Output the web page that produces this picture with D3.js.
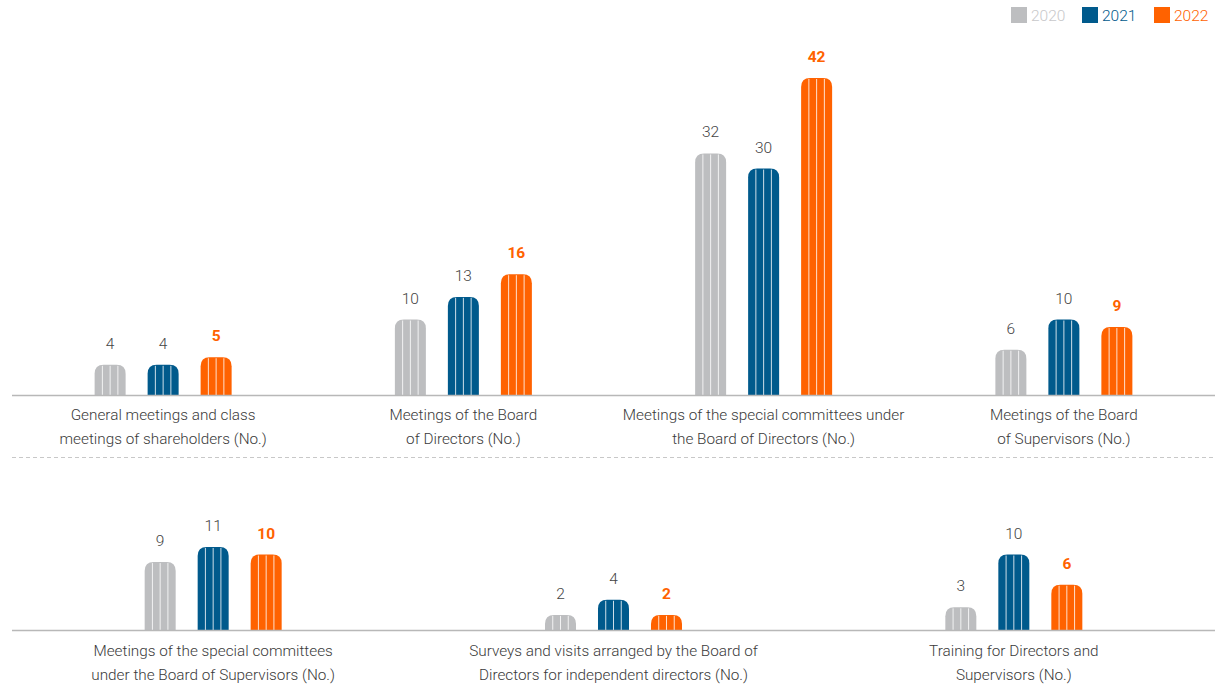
<!DOCTYPE html>
<html>
<head>
<meta charset="utf-8">
<script src="https://cdn.jsdelivr.net/npm/d3@7"></script>
<style>
  html, body { margin: 0; padding: 0; background: #fff; }
  svg { display: block; }
  text { font-family: Roboto, "Liberation Sans", Arial, sans-serif; }
</style>
</head>
<body>
<svg id="chart" width="1221" height="692"></svg>
<script>
// Corporate governance activity counts, 2020–2022
const years = ["2020", "2021", "2022"];

const topCategories = [
  ["General meetings and class", "meetings of shareholders (No.)"],
  ["Meetings of the Board", "of Directors (No.)"],
  ["Meetings of the special committees under", "the Board of Directors (No.)"],
  ["Meetings of the Board", "of Supervisors (No.)"]
];
const top2020 = [4, 10, 32, 6];
const top2021 = [4, 13, 30, 10];
const top2022 = [5, 16, 42, 9];

const bottomCategories = [
  ["Meetings of the special committees", "under the Board of Supervisors (No.)"],
  ["Surveys and visits arranged by the Board of", "Directors for independent directors (No.)"],
  ["Training for Directors and", "Supervisors (No.)"]
];
const bottom2020 = [9, 2, 3];
const bottom2021 = [11, 4, 10];
const bottom2022 = [10, 2, 6];

const colors = { "2020": "#bdbec0", "2021": "#005a8c", "2022": "#ff6200" };
const labelColors = { "2020": "#444", "2021": "#444", "2022": "#ff6200" };

const svg = d3.select("#chart");
const plotLeft = 13, plotRight = 1214;

// shared value scale: pixels per unit identical in both panels
const barMaxH = 317;
const y = d3.scaleLinear().domain([0, 42]).range([0, barMaxH]);

// series offset inside a group
const x1 = d3.scaleBand().domain(years)
  .range([-68.5, 68.5]).paddingInner(0.415).paddingOuter(0);

function barPath(x, top, w, h) {
  const r = Math.min(9, h, w / 2);
  const b = top + h;
  return `M${x},${b} L${x},${top + r} Q${x},${top} ${x + r},${top} ` +
         `L${x + w - r},${top} Q${x + w},${top} ${x + w},${top + r} ` +
         `L${x + w},${b} Z`;
}

function drawPanel(cats, series, baseY, labelY) {
  const x0 = d3.scaleBand().domain(d3.range(cats.length))
    .range([plotLeft, plotRight]).padding(0);
  const g = svg.append("g");

  cats.forEach((c, i) => {
    const cx = x0(i) + x0.bandwidth() / 2;
    years.forEach((yr, k) => {
      const v = series[k][i];
      const bx = cx + x1(yr);
      const bw = x1.bandwidth();
      const h = y(v);
      const top = baseY - h;
      g.append("path")
        .attr("d", barPath(bx, top, bw, h))
        .attr("fill", colors[yr]);
      // vertical white pinstripes
      [0.25, 0.5, 0.75].forEach(f => {
        const sx = bx + bw * f;
        g.append("line")
          .attr("x1", sx).attr("x2", sx)
          .attr("y1", top + 1).attr("y2", baseY)
          .attr("stroke", "#fff").attr("stroke-opacity", 0.8)
          .attr("stroke-width", 1);
      });
      g.append("text")
        .attr("x", bx + bw / 2).attr("y", top - 16)
        .attr("text-anchor", "middle")
        .attr("font-size", 15.5)
        .attr("font-weight", yr === "2022" ? 700 : 300)
        .attr("fill", labelColors[yr])
        .text(v);
    });

    const t = g.append("text")
      .attr("text-anchor", "middle")
      .attr("font-size", 15.3)
      .attr("font-weight", 300)
      .attr("fill", "#3a3a3a");
    c.forEach((line, j) => {
      t.append("tspan").attr("x", cx).attr("y", labelY + j * 24).text(line);
    });
  });

  g.append("line")
    .attr("x1", 12).attr("x2", 1215)
    .attr("y1", baseY + 0.5).attr("y2", baseY + 0.5)
    .attr("stroke", "#b8b8b8").attr("stroke-width", 1.5);
}

drawPanel(topCategories, [top2020, top2021, top2022], 395, 420);
drawPanel(bottomCategories, [bottom2020, bottom2021, bottom2022], 630, 656);

// separator between panels
svg.append("line")
  .attr("x1", 12).attr("x2", 1215)
  .attr("y1", 457.5).attr("y2", 457.5)
  .attr("stroke", "#c8c8c8").attr("stroke-width", 1.2)
  .attr("stroke-dasharray", "4,3");

// legend
const legendX = [1011, 1082, 1154];
const legendTextColors = { "2020": "#c8c8ca", "2021": "#005a8c", "2022": "#ff6200" };
years.forEach((yr, k) => {
  svg.append("rect")
    .attr("x", legendX[k]).attr("y", 7)
    .attr("width", 16).attr("height", 16)
    .attr("fill", colors[yr]);
  svg.append("text")
    .attr("x", legendX[k] + 20).attr("y", 21)
    .attr("font-size", 15.5)
    .attr("font-weight", 300)
    .attr("fill", legendTextColors[yr])
    .text(yr);
});
</script>
</body>
</html>
